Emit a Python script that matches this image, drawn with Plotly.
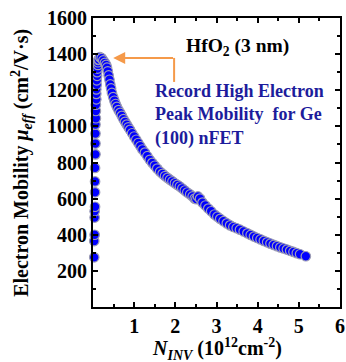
import plotly.graph_objects as go

# Effective electron mobility vs. inversion charge density, Ge (100) nFET, HfO2 3 nm
# rising branch near threshold (low N_inv)
n_inv_rise = [0.03, 0.03, 0.04, 0.04, 0.04, 0.05, 0.05, 0.05, 0.05, 0.06, 0.06, 0.06,
              0.06, 0.07, 0.07, 0.07, 0.08, 0.08, 0.08, 0.09, 0.09, 0.10, 0.10, 0.11,
              0.12, 0.12, 0.13]
mu_rise = [275, 365, 400, 495, 530, 555, 635, 695, 770, 845, 905, 960,
           1010, 1045, 1085, 1120, 1150, 1180, 1205, 1230, 1255, 1280, 1300, 1320,
           1340, 1355, 1368]

# decaying branch after the mobility peak
n_inv_fall = [0.14, 0.17, 0.21, 0.25, 0.29, 0.32, 0.34, 0.36, 0.38, 0.40, 0.42, 0.44,
              0.46, 0.49, 0.52, 0.55, 0.58, 0.62, 0.66, 0.70, 0.74, 0.78, 0.82, 0.86,
              0.90, 0.95, 1.00, 1.05, 1.10, 1.15, 1.20, 1.26, 1.32, 1.38, 1.44, 1.50,
              1.56, 1.63, 1.69, 1.75, 1.81, 1.87, 1.93, 1.99, 2.05, 2.11, 2.17, 2.23,
              2.29, 2.36, 2.42, 2.47, 2.51, 2.55, 2.60, 2.66, 2.73, 2.80, 2.87, 2.95,
              3.02, 3.09, 3.17, 3.25, 3.33, 3.41, 3.49, 3.57, 3.66, 3.75, 3.83, 3.91,
              3.99, 4.07, 4.15, 4.23, 4.31, 4.39, 4.47, 4.55, 4.63, 4.71, 4.79, 4.87,
              4.95, 5.03, 5.17]
mu_fall = [1370, 1383, 1378, 1365, 1352, 1340, 1325, 1305, 1282, 1258, 1232, 1210,
           1185, 1162, 1142, 1124, 1108, 1090, 1075, 1058, 1040, 1025, 1010, 995,
           981, 962, 944, 926, 908, 890, 872, 855, 835, 815, 798, 782,
           766, 749, 737, 725, 715, 705, 695, 685, 676, 667, 656, 645,
           634, 623, 612, 600, 597, 612, 600, 578, 562, 545, 530, 512,
           500, 488, 475, 463, 452, 443, 436, 428, 418, 408, 399, 390,
           382, 374, 366, 358, 351, 344, 337, 330, 324, 318, 311, 305,
           298, 292, 281]

x_ticks = [1, 2, 3, 4, 5, 6]
y_ticks = [200, 400, 600, 800, 1000, 1200, 1400, 1600]

FONT = "Liberation Serif"
ORANGE = "#F59A4A"
NAVY = "#1C1C9C"

fig = go.Figure()
fig.add_trace(go.Scatter(
    x=n_inv_rise + n_inv_fall, y=mu_rise + mu_fall, mode="markers",
    marker=dict(size=9.5, color="#0000FF", line=dict(color="#9C9CB4", width=1.2)),
    cliponaxis=False, showlegend=False,
))

axis_common = dict(
    showline=True, linecolor="black", linewidth=2, mirror="allticks",
    ticks="inside", ticklen=5, tickwidth=2, tickcolor="black",
    showgrid=False, zeroline=False,
    tickfont=dict(family=FONT, size=20, color="black"),
)

fig.update_xaxes(range=[0, 6], tickvals=x_ticks,
                 ticktext=[f"<b>{v}</b>" for v in x_ticks],
                 minor=dict(dtick=0.5, tick0=0, ticks="inside", ticklen=3, tickwidth=1.5,
                            tickcolor="black"),
                 **axis_common)
fig.update_yaxes(range=[0, 1600], tickvals=y_ticks,
                 ticktext=[f"<b>{v}</b>" for v in y_ticks],
                 minor=dict(dtick=100, tick0=0, ticks="inside", ticklen=3, tickwidth=1.5,
                            tickcolor="black"),
                 **axis_common)

# callout arrow pointing to the peak
fig.add_shape(type="line", x0=1.97, x1=1.97, y0=1379, y1=1246, xref="x", yref="y",
              line=dict(color=ORANGE, width=2))
fig.add_annotation(x=0.49, y=1379, ax=1.98, ay=1379, axref="x", ayref="y", xref="x", yref="y",
                   text="", showarrow=True, arrowhead=2, arrowsize=1.2, arrowwidth=2,
                   arrowcolor=ORANGE)

fig.add_annotation(x=3.5, y=1440, xref="x", yref="y", showarrow=False,
                   text="<b>HfO<sub>2</sub> (3 nm)</b>",
                   font=dict(family=FONT, size=19.5, color="black"))
fig.add_annotation(x=1.45, y=1063, xref="x", yref="y", showarrow=False, xanchor="left",
                   yanchor="middle", align="left",
                   text="<b>Record High Electron<br>Peak Mobility  for Ge<br>(100) nFET</b>",
                   font=dict(family=FONT, size=18, color=NAVY))

# axis titles
fig.add_annotation(x=-0.29, y=0.5, xref="paper", yref="paper", showarrow=False,
                   textangle=-90, xanchor="center", yanchor="middle",
                   text="<b>Electron Mobility <i>μ</i><sub><i>eff</i></sub> (cm<sup>2</sup>/V·s)</b>",
                   font=dict(family=FONT, size=20, color="black"))
fig.add_annotation(x=0.5, y=-0.145, xref="paper", yref="paper", showarrow=False,
                   xanchor="center", yanchor="middle",
                   text="<b><i>N</i><sub><i>INV</i></sub> (10<sup>12</sup>cm<sup>-2</sup>)</b>",
                   font=dict(family=FONT, size=20, color="black"))

fig.update_layout(
    width=346, height=362,
    margin=dict(l=93, r=6, t=18, b=55, autoexpand=False),
    paper_bgcolor="white", plot_bgcolor="white",
)

fig.write_html("out.html")
